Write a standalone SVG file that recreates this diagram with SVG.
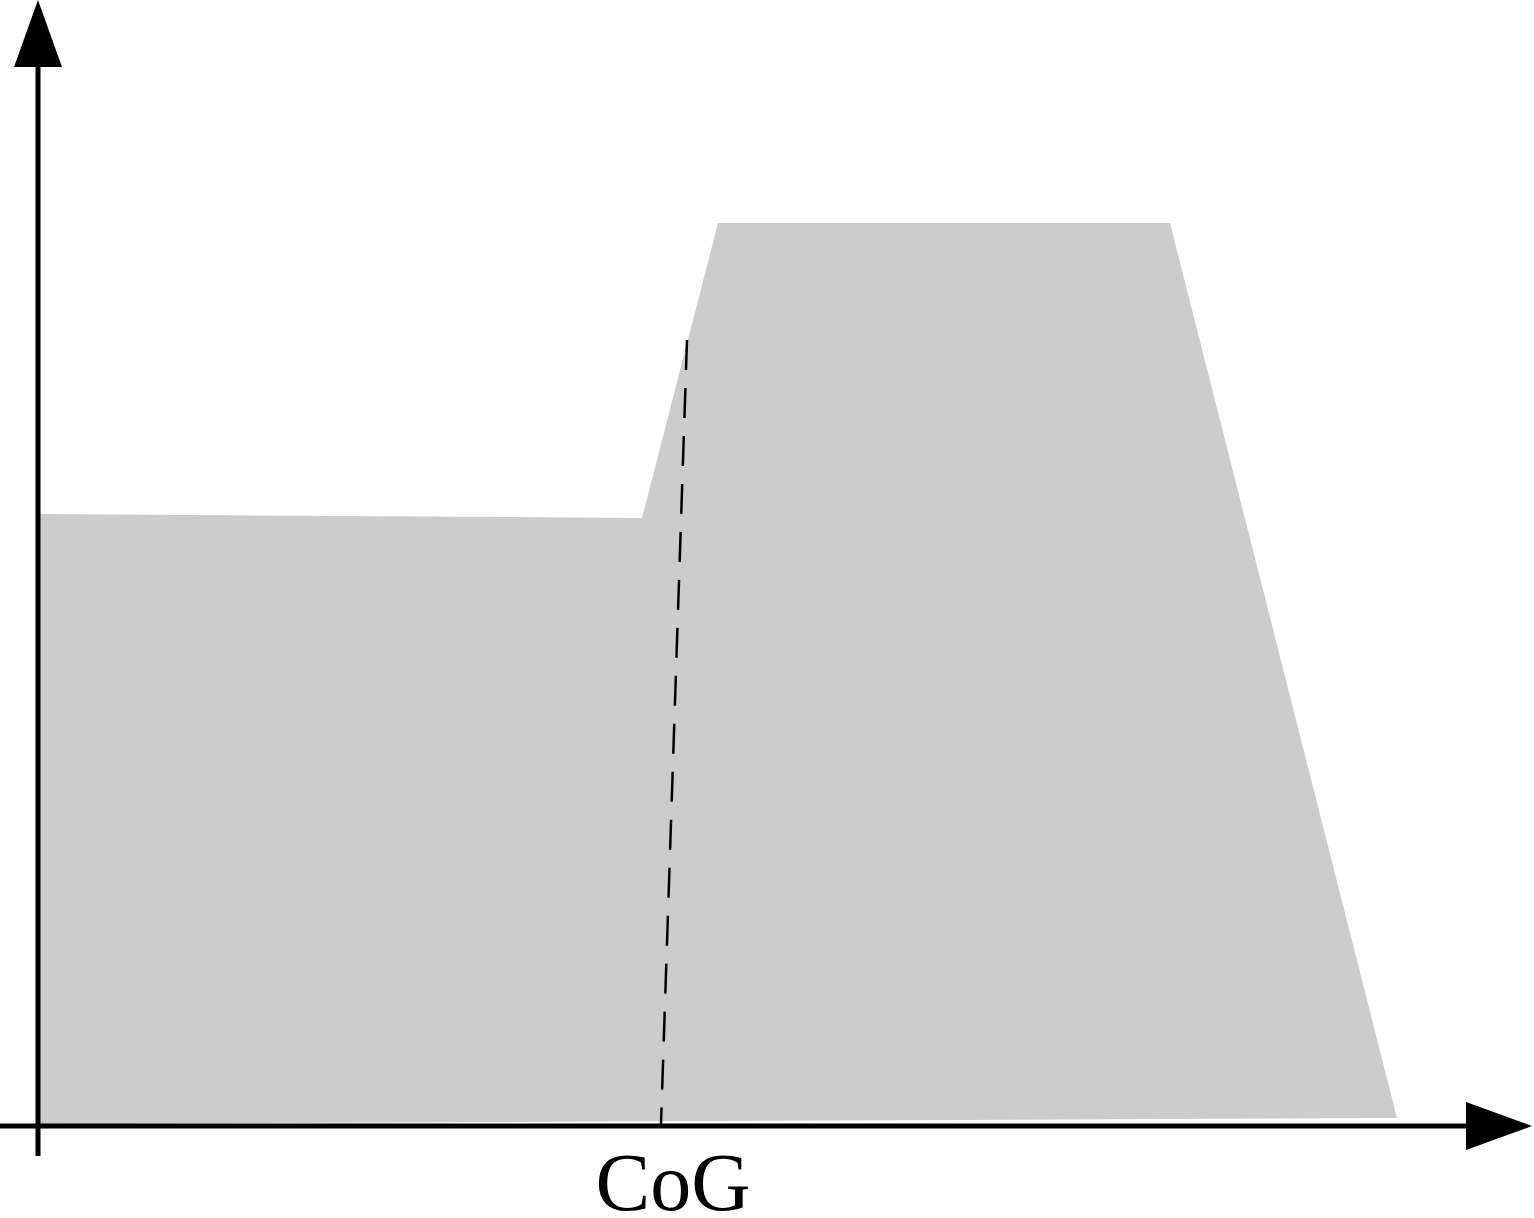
<svg xmlns="http://www.w3.org/2000/svg" width="1534" height="1218" viewBox="0 0 1534 1218">
<style>
.axis{stroke:#000;stroke-width:5;fill:none}
.head{fill:#000}
.area{fill:#cccccc;stroke:none}
.dash{stroke:#000;stroke-width:2.5;fill:none;stroke-dasharray:30 18}
.lbl{font-family:"Liberation Serif",serif;font-size:82px;fill:#000}
</style>
<g id="area"><polygon class="area" points="40,514 642,518 718,223 1170,223 1397,1118 40,1124"/></g>
<g id="connectors">
<line class="axis" x1="38" y1="60" x2="38" y2="1156"/>
<polygon class="head" points="38,0 14,67 62,67"/>
<line class="axis" x1="0" y1="1126" x2="1472" y2="1126"/>
<polygon class="head" points="1532,1126 1466,1102 1466,1150"/>
<line class="dash" x1="687" y1="340" x2="661" y2="1124"/>
</g>
<g id="label"><text class="lbl" x="673" y="1210" text-anchor="middle">CoG</text></g>
</svg>
